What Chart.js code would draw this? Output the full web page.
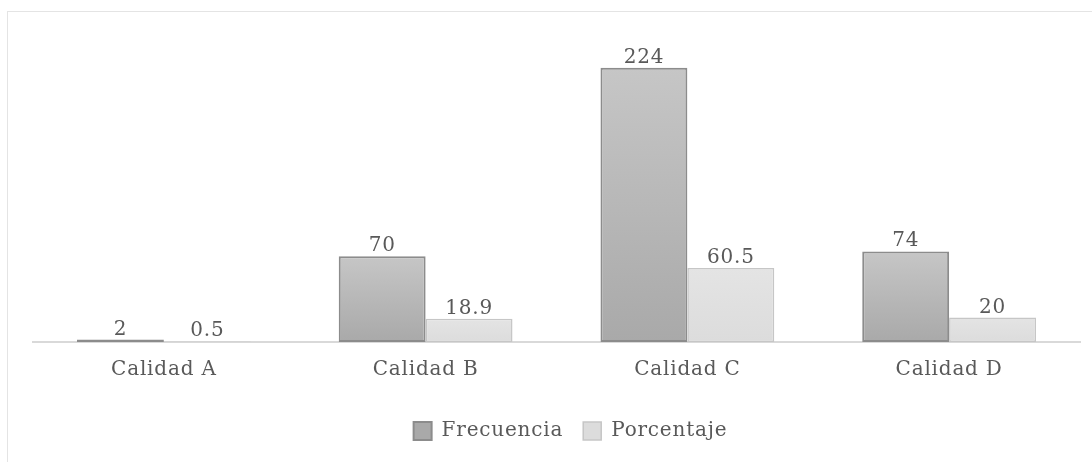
<!DOCTYPE html>
<html>
<head>
<meta charset="utf-8">
<script src="https://cdn.jsdelivr.net/npm/chart.js@4.4.1/dist/chart.umd.min.js"></script>
<style>
    html, body { margin: 0; padding: 0; background: #fff; overflow: hidden; }
    #wrap { position: relative; width: 1092px; height: 462px; }
    #frame { position: absolute; left: 7px; top: 11px; width: 1100px; height: 470px; border: 1px solid #e4e4e4; box-sizing: border-box; }
    canvas { position: absolute; left: 0; top: 0; }
</style>
</head>
<body>
<div id="wrap">
    <div id="frame"></div>
    <canvas id="chart" width="1092" height="462"></canvas>
</div>
<script>
const categories = ['Calidad A', 'Calidad B', 'Calidad C', 'Calidad D'];
const frecuencia = [2, 70, 224, 74];
const porcentaje = [0.5, 18.9, 60.5, 20];
const seriesNames = ['Frecuencia', 'Porcentaje'];

const FONT = { family: '"DejaVu Serif", serif', size: 20 };
const TEXT = '#595959';

// gradient from the top of each bar down to the baseline
const barGradient = (top, bottom) => (ctx) => {
    const chart = ctx.chart;
    if (!chart.chartArea || ctx.type !== 'data') return bottom;
    const y = chart.scales.y;
    const y0 = y.getPixelForValue(ctx.raw);
    const y1 = y.getPixelForValue(0);
    if (y1 - y0 < 1) return bottom;
    const g = chart.ctx.createLinearGradient(0, y0, 0, y1);
    g.addColorStop(0, top);
    g.addColorStop(1, bottom);
    return g;
};

// letter spacing for the wide serif text, legend nudged right
const spacing = {
    id: 'spacing',
    beforeUpdate(chart) { chart.ctx.letterSpacing = '0.8px'; },
    afterLayout(chart) {
        chart.legend.left += 14;
        chart.legend.right += 14;
    },
    beforeDraw(chart) { chart.ctx.letterSpacing = '0.8px'; }
};

// value labels above the bars
const valueLabels = {
    id: 'valueLabels',
    afterDatasetsDraw(chart) {
        const ctx = chart.ctx;
        ctx.save();
        ctx.font = `${FONT.size}px ${FONT.family}`;
        ctx.fillStyle = TEXT;
        ctx.textAlign = 'center';
        ctx.textBaseline = 'alphabetic';
        chart.data.datasets.forEach((ds, i) => {
            chart.getDatasetMeta(i).data.forEach((bar, j) => {
                ctx.fillText(String(ds.data[j]), bar.x, bar.y - 5);
            });
        });
        ctx.restore();
    }
};

const ctx = document.getElementById('chart').getContext('2d');
new Chart(ctx, {
    type: 'bar',
    data: {
        labels: categories,
        datasets: [{
            label: seriesNames[0],
            data: frecuencia,
            backgroundColor: barGradient('#c6c6c6', '#a9a9a9'),
            borderColor: '#8c8c8c',
            borderWidth: 2,
            borderSkipped: false,
            categoryPercentage: 0.664,
            barPercentage: 1
        }, {
            label: seriesNames[1],
            data: porcentaje,
            backgroundColor: barGradient('#e4e4e4', '#dcdcdc'),
            borderColor: '#c6c6c6',
            borderWidth: 1.5,
            borderSkipped: false,
            categoryPercentage: 0.664,
            barPercentage: 1
        }]
    },
    options: {
        responsive: false,
        animation: false,
        layout: { padding: { left: 33, right: 12, top: 36, bottom: 11 } },
        scales: {
            x: {
                grid: { display: false },
                border: { color: '#d9d9d9', width: 2 },
                ticks: { color: TEXT, font: FONT, padding: 8 },
                afterFit(axis) { axis.height += 11; }
            },
            y: { display: false, min: 0, max: 250 }
        },
        plugins: {
            legend: {
                position: 'bottom',
                labels: { boxWidth: 18, boxHeight: 18, color: TEXT, font: FONT, padding: 20 }
            },
            tooltip: { enabled: false }
        }
    },
    plugins: [spacing, valueLabels]
});
</script>
</body>
</html>
